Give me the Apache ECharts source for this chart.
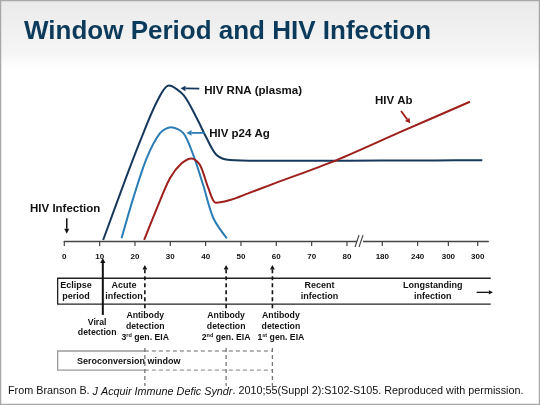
<!DOCTYPE html>
<html><head><meta charset="utf-8">
<script src="https://cdn.jsdelivr.net/npm/echarts@6/dist/echarts.min.js"></script>
<style>html,body{margin:0;padding:0;background:#fff}#c{width:540px;height:405px}</style>
</head><body><div id="c"></div>
<script>
// ---------- data ----------
const titleText = 'Window Period and HIV Infection';
const footerText = 'From Branson B. {i|J Acquir Immune Defic Syndr}. 2010;55(Suppl 2):S102-S105. Reproduced with permission.';
// x in chart units (one unit per day up to 80, compressed beyond the break)
const tickPositions = [0, 10, 20, 30, 40, 50, 60, 70, 80, 90, 100, 108.7, 117];
const tickLabels = ['0', '10', '20', '30', '40', '50', '60', '70', '80', '180', '240', '300', '300'];
const breakPosition = 83.7;
const hivRna = [[11.0,0.6],[16.7,32.9],[21.4,58.4],[26.2,81.9],[29.6,91.4],[33.7,85.9],[37.5,72.2],[40.3,60.4],[43.1,50.6],[46.9,47.6],[55,47.2],[70,47.2],[90,47.3],[105,47.4],[118.3,47.5]];
const hivP24 = [[16.2,1.6],[19.5,25.1],[23.3,48.6],[27.1,63.4],[30.2,66.9],[33.7,63.4],[36.5,50.6],[39.3,32.9],[42.2,13.4],[46.0,1.6]];
const hivAb = [[22.6,0.6],[26.2,19.2],[29.9,36.9],[33.2,45.7],[36.1,48.6],[38.4,44.7],[40.8,31.0],[42.9,22.5],[46.9,24.1],[52.0,28.0],[58.2,32.9],[77.1,47.6],[95.0,64.0],[114.8,81.9]];
const curveNames = ['HIV RNA (plasma)', 'HIV p24 Ag', 'HIV Ab'];
const infectionLabel = 'HIV Infection';
const stageLabels = ['Eclipse\nperiod', 'Acute\ninfection', 'Recent\ninfection', 'Longstanding\ninfection'];
const stageCenters = [3.3, 16.9, 72.2, 104.3];
const detectionDays = [10.9, 22.8, 45.8, 58.9];
const detectionLabels = ['Viral\ndetection', 'Antibody\ndetection\n3{s|rd} gen. EIA', 'Antibody\ndetection\n2{s|nd} gen. EIA', 'Antibody\ndetection\n1{s|st} gen. EIA'];
const detectionLabelCenters = [9.3, 22.9, 45.8, 61.3];
const seroText = 'Seroconversion window';

// ---------- styles ----------
const FF = '"Liberation Sans", Arial, Helvetica, sans-serif';
const C_RNA = '#17385c', C_P24 = '#2b7db5', C_AB = '#9e1f1a', C_TITLE = '#0c3a5a';

function arrow(a, b, color, w, hl, hw, dash) {
  const dx = b[0]-a[0], dy = b[1]-a[1], L = Math.hypot(dx, dy), ux = dx/L, uy = dy/L;
  const base = [b[0]-ux*hl, b[1]-uy*hl];
  const px = -uy, py = ux;
  return [
    {type:'line', shape:{x1:a[0], y1:a[1], x2:base[0], y2:base[1]}, style:{stroke:color, lineWidth:w, lineDash:dash||null}},
    {type:'polygon', shape:{points:[b, [base[0]+px*hw, base[1]+py*hw], [base[0]-px*hw, base[1]-py*hw]]}, style:{fill:color}}
  ];
}
function txt(x, y, text, font, opts) {
  return {type:'text', style:Object.assign({x:x, y:y, text:text, font:font, fill:'#111', align:'left', verticalAlign:'middle'}, opts||{})};
}

function renderTicks(params, api) {
  const p = api.coord([api.value(0), 0]);
  return {type:'group', children:[
    {type:'line', shape:{x1:p[0], y1:p[1], x2:p[0], y2:p[1]+5}, style:{stroke:'#444', lineWidth:1.2}},
    txt(p[0], p[1]+16, tickLabels[params.dataIndex], 'bold 8px '+FF, {align:'center'})
  ]};
}

function renderAnnotations(params, api) {
  const P = (x, y) => api.coord([x, y]);
  const ch = [];
  const F11 = 'bold 11.5px '+FF, F9 = 'bold 8.7px '+FF;
  // axis break
  const bp = P(breakPosition, 0);
  ch.push({type:'rect', shape:{x:bp[0]-3, y:bp[1]-2, width:6, height:4}, style:{fill:'#fff'}});
  ch.push({type:'line', shape:{x1:bp[0]-5, y1:bp[1]+6, x2:bp[0]-1, y2:bp[1]-6}, style:{stroke:'#444', lineWidth:1.1}});
  ch.push({type:'line', shape:{x1:bp[0]-1, y1:bp[1]+6, x2:bp[0]+3, y2:bp[1]-6}, style:{stroke:'#444', lineWidth:1.1}});
  // curve labels
  let p = P(39.6, 88.4); ch.push(txt(p[0], p[1], curveNames[0], F11));
  ch.push(...arrow(P(38.2, 89.6), P(32.9, 89.8), C_RNA, 1.8, 5, 2.8));
  p = P(41.0, 62.9); ch.push(txt(p[0], p[1], curveNames[1], F11));
  ch.push(...arrow(P(39.8, 63.6), P(34.6, 63.6), C_P24, 1.8, 5, 2.8));
  p = P(87.9, 82.5); ch.push(txt(p[0], p[1], curveNames[2], F11));
  ch.push(...arrow(P(95.3, 76.5), P(97.9, 69.2), C_AB, 1.8, 5, 2.8));
  p = P(-9.7, 19.2); ch.push(txt(p[0], p[1], infectionLabel, F11));
  ch.push(...arrow(P(0.7, 13.4), P(0.7, 4.3), '#111', 1.5, 5, 2.5));
  // stage band
  const bl = P(-1.88, -21.9), br = P(120.7, -37.1);
  ch.push({type:'polyline', shape:{points:[[br[0], bl[1]], [bl[0], bl[1]], [bl[0], br[1]], [br[0], br[1]]]}, style:{stroke:'#222', lineWidth:1.3, fill:null}});
  stageLabels.forEach((s, i) => { const q = P(stageCenters[i], -29.4); ch.push(txt(q[0], q[1], s, 'bold 9px '+FF, {align:'center', lineHeight:10.5})); });
  ch.push(...arrow(P(116.7, -30.2), P(121.3, -30.2), '#111', 1.3, 4, 2.2));
  // detection markers
  detectionDays.forEach((d, i) => {
    if (i === 0) {
      ch.push(...arrow(P(d, -43.5), P(d, -10), '#111', 2, 5, 2.6));
    } else {
      ch.push(...arrow(P(d, -39.5), P(d, -14.1), '#111', 1.6, 4.5, 2.4, [4, 3]));
    }
  });
  detectionLabels.forEach((s, i) => {
    const q = P(detectionLabelCenters[i], i === 0 ? -50.9 : -50.5);
    ch.push({type:'text', style:{x:q[0], y:q[1], text:s, font:F9, fill:'#111', align:'center', verticalAlign:'middle', lineHeight:10.8,
      rich:{s:{fontSize:5.5, fontWeight:'bold', fontFamily:FF, verticalAlign:'top', fill:'#111', lineHeight:10.8}}}});
  });
  // seroconversion window
  const s1 = P(-1.88, -64.7), s2 = P(detectionDays[1], -75.9), s3 = P(detectionDays[3], -75.9);
  ch.push({type:'polyline', shape:{points:[[s2[0], s1[1]], [s1[0], s1[1]], [s1[0], s2[1]], [s2[0], s2[1]]]}, style:{stroke:'#9a9a9a', lineWidth:1.3, fill:null}});
  ch.push({type:'line', shape:{x1:s2[0], y1:s1[1], x2:s3[0], y2:s1[1]}, style:{stroke:'#9a9a9a', lineWidth:1.3, lineDash:[4, 3]}});
  ch.push({type:'line', shape:{x1:s2[0], y1:s2[1], x2:s3[0], y2:s2[1]}, style:{stroke:'#9a9a9a', lineWidth:1.3, lineDash:[4, 3]}});
  for (let i = 1; i < 4; i++) {
    const a = P(detectionDays[i], -62.9), b = P(detectionDays[i], -85.3);
    ch.push({type:'line', shape:{x1:a[0], y1:a[1], x2:b[0], y2:b[1]}, style:{stroke:'#777', lineWidth:1.3, lineDash:[4, 3]}});
  }
  p = P(3.6, -70.6); ch.push(txt(p[0], p[1], seroText, 'bold 9px '+FF));
  return {type:'group', children:ch};
}

const chart = echarts.init(document.getElementById('c'), null, {renderer:'canvas'});
chart.setOption({
  animation:false,
  backgroundColor:'#ffffff',
  graphic:[
    {type:'rect', z:-10, shape:{x:0, y:0, width:540, height:70}, style:{fill:new echarts.graphic.LinearGradient(0, 0, 0, 1, [{offset:0, color:'#eaeaea'}, {offset:0.75, color:'#f5f5f5'}, {offset:1, color:'#ffffff'}])}},
    {type:'rect', z:100, shape:{x:0.5, y:0.5, width:539, height:404}, style:{fill:null, stroke:'#a8a8a8', lineWidth:1.5}},
    {type:'text', left:24, top:19, style:{text:titleText, font:'bold 26px '+FF, fill:C_TITLE}},
    {type:'text', left:8, top:386, style:{text:footerText, font:'10.8px '+FF, fill:'#111', rich:{i:{fontStyle:'italic', fontSize:10.8, fontFamily:FF, fill:'#111'}}}}
  ],
  grid:{left:64.3, right:51.7, top:71, bottom:11},
  xAxis:{type:'value', min:0, max:120, axisLine:{show:true, onZero:true, lineStyle:{color:'#444', width:1.3}}, axisTick:{show:false}, axisLabel:{show:false}, splitLine:{show:false}},
  yAxis:{type:'value', min:-90, max:100, show:false, splitLine:{show:false}},
  series:[
    {name:curveNames[0], type:'line', data:hivRna, smooth:0.3, showSymbol:false, lineStyle:{color:C_RNA, width:2}, z:3},
    {name:curveNames[1], type:'line', data:hivP24, smooth:0.3, showSymbol:false, lineStyle:{color:C_P24, width:2}, z:3},
    {name:curveNames[2], type:'line', data:hivAb, smooth:0.3, showSymbol:false, lineStyle:{color:C_AB, width:2}, z:4},
    {type:'custom', clip:false, data:tickPositions.map(v => [v, 0]), renderItem:renderTicks, z:5},
    {type:'custom', clip:false, data:[[0, 0]], renderItem:renderAnnotations, z:6}
  ]
});
</script></body></html>
